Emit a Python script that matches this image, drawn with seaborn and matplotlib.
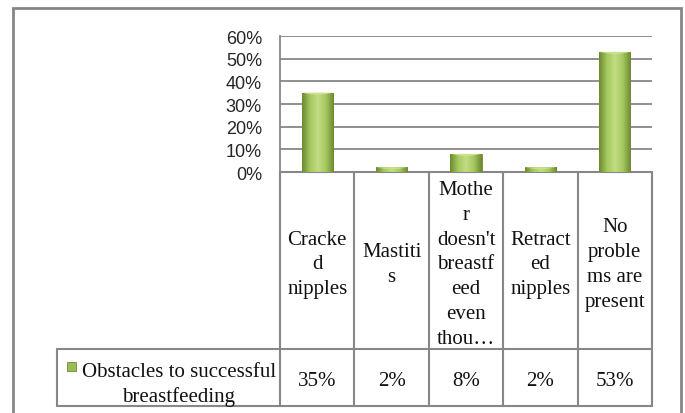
import numpy as np
import seaborn as sns
import matplotlib.pyplot as plt
import matplotlib.transforms as mtransforms
from matplotlib.lines import Line2D
from matplotlib.patches import Rectangle, Polygon
from matplotlib.colors import LinearSegmentedColormap

# data
categories = ["Cracked nipples", "Mastitis",
              "Mother doesn't breastfeed even though",
              "Retracted nipples", "No problems are present"]
# wrapped the way the original table cells show them
category_labels = ["Cracke\nd\nnipples", "Mastiti\ns",
                   "Mothe\nr\ndoesn't\nbreastf\need\neven\nthou\u2026",
                   "Retract\ned\nnipples", "No\nproble\nms are\npresent"]
values = [0.35, 0.02, 0.08, 0.02, 0.53]
value_labels = ["35%", "2%", "8%", "2%", "53%"]
series_name = "Obstacles to successful\nbreastfeeding"
yticks = [0, 0.1, 0.2, 0.3, 0.4, 0.5, 0.6]

W, H = 685, 414
grey = '#878787'
green = '#9bbb59'

sns.set_style('white')

fig = plt.figure(figsize=(W / 100, H / 100), dpi=100)
ax = fig.add_axes([280 / W, 1 - 173 / H, 372 / W, 136 / H])

sns.barplot(x=categories, y=values, ax=ax, color=green, width=0.42,
            saturation=1, edgecolor='#6f8a36', linewidth=0.6, zorder=3)

# bevel-ish shading on each bar, with the light chevron on top
shade = LinearSegmentedColormap.from_list('bev', ['#6c8a30', '#a6c960', '#c2dc84', '#a6c960', '#6c8a30'])
grad = np.linspace(0, 1, 64).reshape(1, -1)
cap = 0.012
for p in ax.patches:
    x0, y0, w, h = p.get_x(), p.get_y(), p.get_width(), p.get_height()
    im = ax.imshow(grad, cmap=shade, aspect='auto', zorder=4,
                   extent=[x0, x0 + w, y0, y0 + h])
    im.set_clip_path(p)
    c = min(cap, h * 0.5)
    tri = Polygon([[x0, y0 + h], [x0 + w, y0 + h], [x0 + w / 2, y0 + h - c]],
                  closed=True, facecolor='#c9e08f', edgecolor='none', zorder=5)
    ax.add_patch(tri)

ax.set_xlim(-0.5, len(categories) - 0.5)
ax.set_ylim(0, 0.6)
ax.set_yticks(yticks)
ax.set_yticklabels([f"{int(round(t * 100))}%" for t in yticks],
                   fontsize=13, family='Liberation Sans')
ax.tick_params(axis='y', length=0, pad=13)
ax.set_xticks([])
ax.set_xlabel('')
ax.yaxis.grid(True, color=grey, linewidth=1.3, zorder=0)
ax.set_axisbelow(True)
for s in ['top', 'right', 'bottom']:
    ax.spines[s].set_visible(False)
ax.spines['left'].set_color(grey)
ax.spines['left'].set_linewidth(1.3)

# data table under the plot: x from data coords, y from figure coords
tr = mtransforms.blended_transform_factory(ax.transData, fig.transFigure)
fy = lambda px: 1 - px / H
n = len(categories)
lkw = dict(color=grey, linewidth=1.5, clip_on=False)

for y in [173, 350, 407]:
    ax.add_line(Line2D([-0.5, n - 0.5], [fy(y), fy(y)], transform=tr, **lkw))
for i in range(n + 1):
    ax.add_line(Line2D([i - 0.5, i - 0.5], [fy(173), fy(407)], transform=tr, **lkw))

# legend cell
fig.add_artist(Line2D([57 / W, 280 / W], [fy(350), fy(350)], **lkw))
fig.add_artist(Line2D([57 / W, 280 / W], [fy(407), fy(407)], **lkw))
fig.add_artist(Line2D([57 / W, 57 / W], [fy(350), fy(407)], **lkw))

tkw = dict(family='Liberation Serif', fontsize=15, color='#111111',
           ha='center', va='center', multialignment='center', linespacing=1.42)
for i, (lab, v) in enumerate(zip(category_labels, value_labels)):
    ax.text(i, fy(265), lab, transform=tr, **tkw)
    ax.text(i, fy(382), v, transform=tr, **tkw)

fig.text(179 / W, fy(385), series_name, **{**tkw, 'linespacing': 1.3})
fig.add_artist(Rectangle((67 / W, fy(372)), 9 / W, 9 / H, transform=fig.transFigure,
                         facecolor=green, edgecolor='#6f8a36', linewidth=0.6))

# outer chart frame
fig.add_artist(Rectangle((13 / W, -0.05), (681 - 13) / W, fy(9) + 0.05,
                         transform=fig.transFigure, fill=False,
                         edgecolor='#868686', linewidth=2))

fig.savefig('out.png', dpi=100)
